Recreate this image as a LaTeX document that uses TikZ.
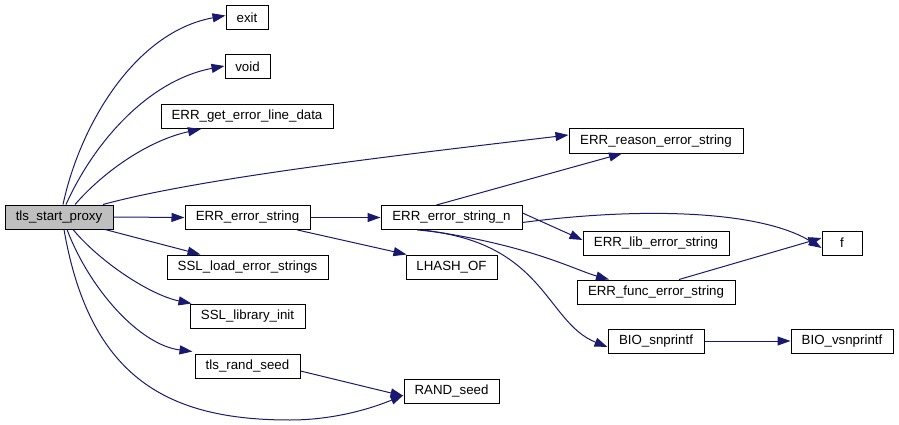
\documentclass[tikz,border=0pt]{standalone}
\usepackage{fontspec}
\setmainfont{Liberation Sans}
\usetikzlibrary{arrows.meta}
\definecolor{edgeblue}{HTML}{191970}
\definecolor{rootgray}{HTML}{BFBFBF}
\tikzset{
  fn/.style={draw=black, line width=1pt, minimum height=24pt, inner sep=0pt, font=\fontsize{13.3}{16}\selectfont, fill=white},
  call/.style={draw=edgeblue, line width=1pt, -{Triangle[length=13pt,width=9pt]}, fill=none}
}
\begin{document}
\begin{tikzpicture}[x=1pt,y=-1pt]
\useasboundingbox (0,0) rectangle (899,425);
% nodes
\node[fn, fill=rootgray, minimum width=108pt] (tls) at (59,217) {tls\_start\_proxy};
\node[fn, minimum width=42pt] (exit) at (247,17.5) {exit};
\node[fn, minimum width=45pt] (void) at (247.5,67) {void};
\node[fn, minimum width=172pt] (getline) at (247,116.5) {ERR\_get\_error\_line\_data};
\node[fn, minimum width=125pt] (errstr) at (247.5,217.5) {ERR\_error\_string};
\node[fn, minimum width=161pt] (sslload) at (247.5,267) {SSL\_load\_error\_strings};
\node[fn, minimum width=115pt] (sslinit) at (247.5,316) {SSL\_library\_init};
\node[fn, minimum width=105pt] (randseedtls) at (247.5,366) {tls\_rand\_seed};
\node[fn, minimum width=95pt] (randseed) at (451.5,391) {RAND\_seed};
\node[fn, minimum width=141pt] (errstrn) at (451.5,217.5) {ERR\_error\_string\_n};
\node[fn, minimum width=91pt] (lhash) at (451.5,267) {LHASH\_OF};
\node[fn, minimum width=174pt] (reason) at (656,141) {ERR\_reason\_error\_string};
\node[fn, minimum width=146pt] (lib) at (656,243) {ERR\_lib\_error\_string};
\node[fn, minimum width=158pt] (func) at (656,292) {ERR\_func\_error\_string};
\node[fn, minimum width=96pt] (bio) at (656,341) {BIO\_snprintf};
\node[fn, minimum width=40pt] (f) at (842,243) {f};
\node[fn, minimum width=102pt] (biov) at (842,341) {BIO\_vsnprintf};
% edges
\draw[call] ([xshift=4pt]tls.north) .. controls (80,125) and (135,32) .. ([yshift=2pt]exit.west);
\draw[call] ([xshift=7pt]tls.north) .. controls (95,140) and (150,80) .. ([yshift=1pt]void.west);
\draw[call] ([xshift=16pt]tls.north) .. controls (105,170) and (150,140) .. ([xshift=-46pt]getline.south);
\draw[call] ([xshift=44pt]tls.north) .. controls (200,178) and (400,155) .. ([yshift=6pt]reason.west);
\draw[call] (tls.east) -- (errstr.west);
\draw[call] ([xshift=46pt]tls.south) -- ([xshift=-47pt]sslload.north);
\draw[call] ([xshift=14pt]tls.south) .. controls (100,262) and (150,295) .. ([xshift=2pt]sslinit.north west);
\draw[call] ([xshift=8pt]tls.south) .. controls (90,290) and (140,345) .. ([xshift=-2pt,yshift=2pt]randseedtls.north west);
\draw[call] ([xshift=5pt]tls.south) .. controls (90,380) and (170,420) .. (290,420) .. controls (340,420) and (380,405) .. ([yshift=-4pt]randseed.west);
\draw[call] ([yshift=-5pt]randseedtls.east) -- ([yshift=-5pt]randseed.west);
\draw[call] (errstr.east) -- (errstrn.west);
\draw[call] ([xshift=50pt]errstr.south) -- ([xshift=-45pt]lhash.north);
\draw[call] ([xshift=-15pt]errstrn.north) -- ([xshift=-34pt]reason.south);
\draw[call] ([yshift=-5pt]errstrn.east) .. controls (640,207) and (760,210) .. ([yshift=-5pt]f.west);
\draw[call] ([yshift=4.5pt]errstrn.east) -- ([yshift=3pt]lib.west);
\draw[call] ([xshift=-28pt]errstrn.south) .. controls (530,245) and (575,270) .. ([xshift=-47pt]func.north);
\draw[call] ([xshift=-34pt]errstrn.south) .. controls (545,240) and (545,322) .. ([yshift=-6pt]bio.west);
\draw[call] ([xshift=23pt]func.north) -- ([yshift=5pt]f.west);
\draw[call] (bio.east) -- (biov.west);
\end{tikzpicture}
\end{document}
